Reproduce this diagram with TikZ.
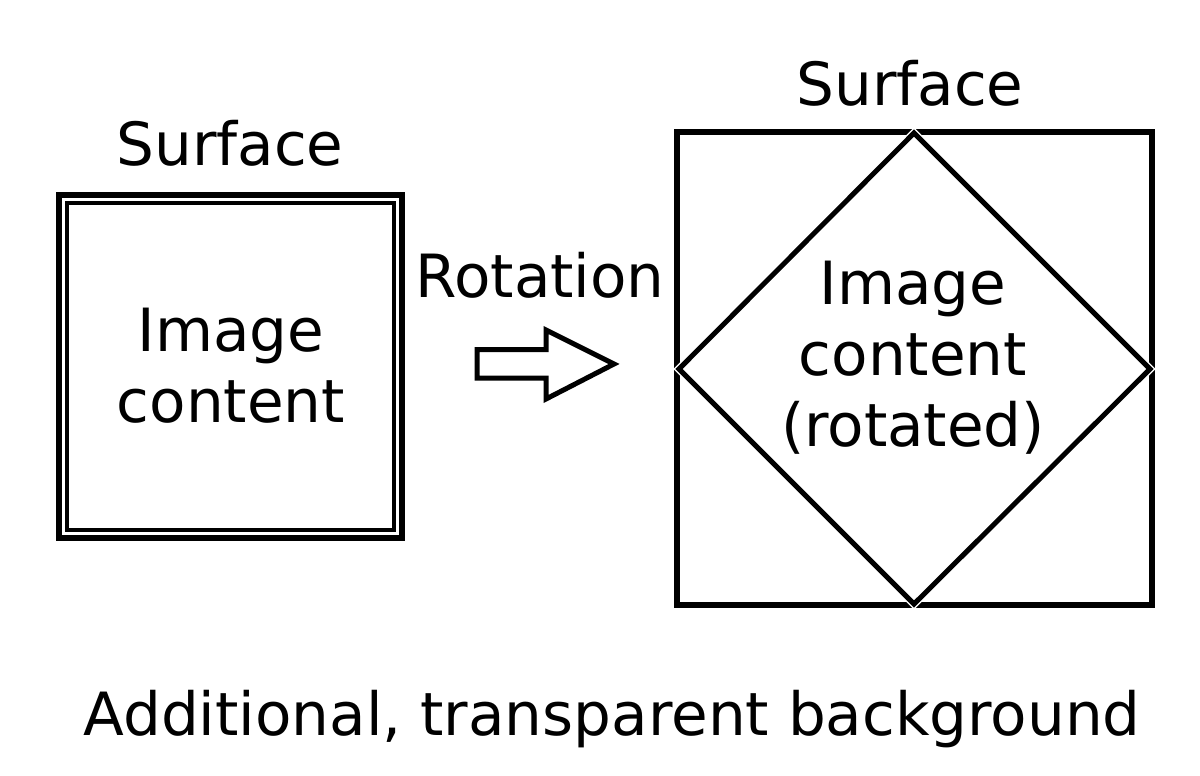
\documentclass[tikz,border=0pt]{standalone}
\usepackage{fontspec}
\setmainfont{DejaVu Sans}
\usetikzlibrary{positioning}

\tikzset{
  label text/.style={font=\fontsize{59.6}{71}\selectfont, inner sep=0pt, align=center},
  frame/.style={draw, line width=6},
}

\begin{document}
\begin{tikzpicture}[x=1pt,y=-1pt]
  \useasboundingbox[fill=white] (0,0) rectangle (1200,776);

  %left
  \draw[frame] (59,195) rectangle (402,538);
  \draw[line width=3.5] (67,203) rectangle (394,530);
  \node[label text,anchor=base] (surfL) at (230,165) {Surface};
  \node[label text] (imgL) at (231,366) {Image\\content};

  %middle
  \node[label text,anchor=base] (rot) at (540,297) {Rotation};
  \draw[line width=5,line join=miter] (477,349.5) -- (546,349.5) -- (546,330) -- (614,364)
    -- (546,399) -- (546,378) -- (477,378) -- cycle;

  %right
  \draw[frame] (676.5,132) rectangle (1152,605);
  \coordinate (dT) at (914,133);
  \coordinate (dR) at (1150,369);
  \coordinate (dB) at (914,604);
  \coordinate (dL) at (679,369);
  \draw[white,line width=8] (dT) -- (dR) -- (dB) -- (dL) -- cycle;
  \draw[line width=5] (dT) -- (dR) -- (dB) -- (dL) -- cycle;
  \node[label text,anchor=base] (surfR) at (910,106) {Surface};
  \node[label text] (imgR) at (913,358) {Image\\content\\(rotated)};

  %bottom
  \node[label text,anchor=base] (bg) at (612,735) {Additional, transparent background};
\end{tikzpicture}
\end{document}
